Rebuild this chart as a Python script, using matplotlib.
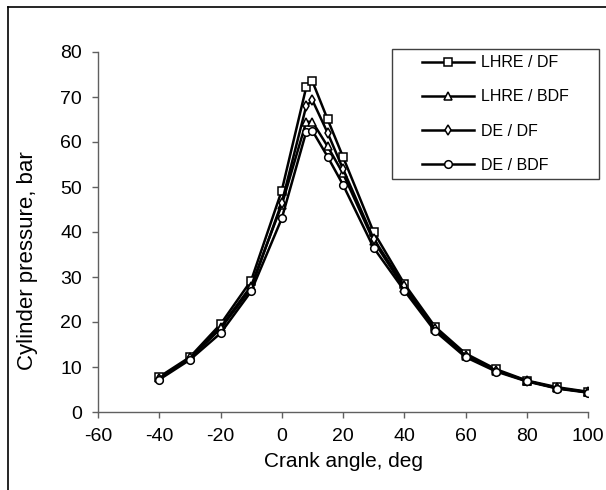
import numpy as np
import matplotlib
matplotlib.use("Agg")
import matplotlib.pyplot as plt
from matplotlib.lines import Line2D
from matplotlib.patches import Rectangle

plt.rcParams['font.family'] = ['Liberation Sans', 'DejaVu Sans']
plt.rcParams['axes.unicode_minus'] = False

# crank angle, deg
angle = [-40, -30, -20, -10, 0, 8, 10, 15, 20, 30, 40, 50, 60, 70, 80, 90, 100]

# cylinder pressure, bar
lhre_df = [7.8, 12.2, 19.5, 29.2, 49.2, 72.2, 73.5, 65.0, 56.7, 40.0, 28.5, 19.0, 13.0, 9.5, 7.0, 5.5, 4.5]
lhre_bdf = [7.5, 12.0, 18.8, 28.0, 46.0, 64.5, 64.5, 59.0, 53.0, 38.0, 27.5, 18.5, 12.5, 9.2, 6.9, 5.3, 4.4]
de_df = [7.4, 11.9, 18.5, 27.5, 46.5, 68.0, 69.3, 62.0, 54.0, 38.5, 28.0, 18.5, 12.5, 9.2, 6.9, 5.3, 4.4]
de_bdf = [7.2, 11.6, 17.5, 26.8, 43.0, 62.3, 62.5, 56.7, 50.5, 36.5, 27.0, 18.0, 12.2, 9.0, 6.8, 5.2, 4.3]

series = [
    ("LHRE / DF", lhre_df, "s"),
    ("LHRE / BDF", lhre_bdf, "^"),
    ("DE / DF", de_df, "d"),
    ("DE / BDF", de_bdf, "o"),
]

W, H = 606, 490
fig = plt.figure(figsize=(W / 100, H / 100), dpi=100)
ax = fig.add_axes([98 / W, 1 - 412 / H, 490 / W, 360 / H])

for lab, vals, mk in series:
    ax.plot(angle, vals, color="black", lw=1.8, marker=mk, ms=5.5,
            mfc="white", mec="black", mew=1.1, label=lab)

ax.set_xlim(-60, 100)
ax.set_ylim(0, 80)
ax.set_xticks(np.arange(-60, 101, 20))
ax.set_yticks(np.arange(0, 81, 10))
ax.set_xlabel("Crank angle, deg", fontsize=15, labelpad=5)
ax.set_ylabel("Cylinder pressure, bar", fontsize=16)
ax.yaxis.set_label_coords(-60 / 490, 0.42)
ax.tick_params(labelsize=14, direction="out", length=4.5, color="#606060", width=1, pad=7)
for s in ["top", "right"]:
    ax.spines[s].set_visible(False)
for s in ["left", "bottom"]:
    ax.spines[s].set_color("#606060")
    ax.spines[s].set_linewidth(1)

# legend box (drawn separately, Excel style padding)
fig.patches.append(Rectangle((392 / W, 1 - 179 / H), 207 / W, 130 / H, fill=False,
                             edgecolor="#404040", lw=1, transform=fig.transFigure))
leg = ax.legend(loc="center", bbox_to_anchor=((392 + 599) / 2 / W, 1 - (49 + 179) / 2 / H),
                bbox_transform=fig.transFigure, fontsize=11.5, frameon=False,
                labelspacing=1.2, handlelength=3.25, handletextpad=0.4,
                borderpad=0, borderaxespad=0)

# outer frame lines
fig.add_artist(Line2D([8 / W, 1], [1 - 7 / H, 1 - 7 / H], color="black", lw=1.2,
                      transform=fig.transFigure))
fig.add_artist(Line2D([8 / W, 8 / W], [0, 1 - 7 / H], color="black", lw=1.2,
                      transform=fig.transFigure))

fig.savefig("out.png", dpi=100)
